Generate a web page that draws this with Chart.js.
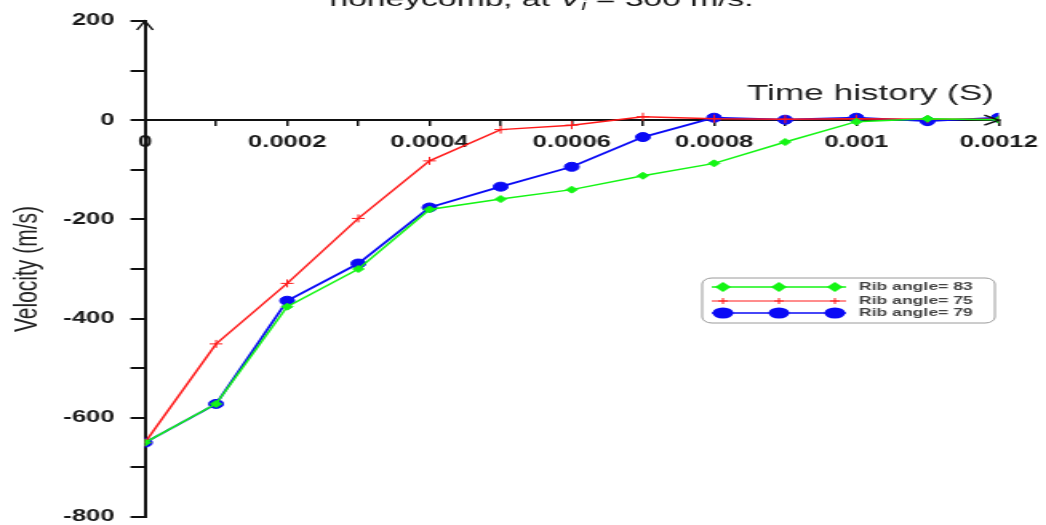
<!DOCTYPE html>
<html>
<head>
<meta charset="utf-8">
<script src="https://cdn.jsdelivr.net/npm/chart.js@4"></script>
<style>
  html, body { margin: 0; padding: 0; background: #fff; }
  /* the reference is stretched sideways, so the canvas is drawn narrow and shown wide */
  #chart { display: block; }
</style>
</head>
<body>
<canvas id="chart" width="654" height="525" style="width:1046px;height:525px"></canvas>
<script>
// time steps (s)
const timeValues = [0, 0.0001, 0.0002, 0.0003, 0.0004, 0.0005, 0.0006,
  0.0007, 0.0008, 0.0009, 0.001, 0.0011, 0.0012];

// velocity (m/s) per rib angle
const rib83 = [-650, -572, -376, -300, -180, -159, -140, -112, -87, -44, -3, 3, 1];
const rib75 = [-650, -451, -329, -198, -82, -19, -10, 7, 3, 2, 3, 2, 2];
const rib79 = [-650, -572, -364, -289, -176, -134, -94, -34, 5, 1, 5, -2, 5];

const seriesLabels = ['Rib angle= 83', 'Rib angle= 75', 'Rib angle= 79'];
const xTickLabels = ['0', '0.0002', '0.0004', '0.0006', '0.0008', '0.001', '0.0012'];
const yTickLabels = ['-800', '-600', '-400', '-200', '0', '200'];

const toPoints = values => values.map((v, i) => ({ x: timeValues[i], y: v }));

/**
 * Title (cut off at the top), x axis caption and axis arrows
 */
const decorations = {
  id: 'decorations',
  afterDraw(chart) {
    const ctx = chart.ctx;
    const area = chart.chartArea;
    const y0 = chart.scales.y.getPixelForValue(0);

    ctx.save();
    ctx.fillStyle = '#111';
    ctx.textBaseline = 'alphabetic';
    ctx.textAlign = 'left';

    // title, mostly outside the canvas
    let x = 206;
    const base = 6;
    ctx.font = '21px "Liberation Sans", Arial, sans-serif';
    const part1 = 'honeycomb, at ';
    ctx.fillText(part1, x, base);
    x += ctx.measureText(part1).width;
    ctx.font = 'italic 21px "Liberation Sans", Arial, sans-serif';
    ctx.fillText('V', x, base);
    x += ctx.measureText('V').width;
    ctx.font = 'italic 14px "Liberation Sans", Arial, sans-serif';
    ctx.fillText('i', x, base + 4);
    x += ctx.measureText('i').width;
    ctx.font = '21px "Liberation Sans", Arial, sans-serif';
    ctx.fillText(' = 300 m/s.', x, base);

    // x axis caption
    ctx.font = '22px "Liberation Sans", Arial, sans-serif';
    ctx.fillStyle = '#222';
    ctx.textAlign = 'right';
    ctx.fillText('Time history (S)', area.right - 3, 100);

    // arrows
    ctx.strokeStyle = '#111';
    ctx.lineWidth = 1.5;
    ctx.beginPath();
    ctx.moveTo(area.left - 5, area.top + 9);
    ctx.lineTo(area.left, area.top);
    ctx.lineTo(area.left + 5, area.top + 9);
    ctx.moveTo(area.right - 9, y0 - 5);
    ctx.lineTo(area.right, y0);
    ctx.lineTo(area.right - 9, y0 + 5);
    ctx.stroke();
    ctx.restore();
  }
};

/**
 * Boxed legend with three markers on each sample line
 */
const boxLegend = {
  id: 'boxLegend',
  afterDraw(chart) {
    const ctx = chart.ctx;
    const bx = 439, by = 278, bw = 183, bh = 45, r = 6;
    const rows = [287, 301, 313];
    const lineX1 = 445, lineX2 = 529;
    const markerXs = [452, 487, 522];

    ctx.save();
    ctx.beginPath();
    ctx.moveTo(bx + r, by);
    ctx.arcTo(bx + bw, by, bx + bw, by + bh, r);
    ctx.arcTo(bx + bw, by + bh, bx, by + bh, r);
    ctx.arcTo(bx, by + bh, bx, by, r);
    ctx.arcTo(bx, by, bx + bw, by, r);
    ctx.closePath();
    ctx.fillStyle = '#fff';
    ctx.fill();
    ctx.strokeStyle = '#9a9a9a';
    ctx.lineWidth = 1;
    ctx.stroke();

    chart.data.datasets.forEach((ds, i) => {
      const y = rows[i];
      ctx.strokeStyle = ds.borderColor;
      ctx.fillStyle = ds.borderColor;
      ctx.lineWidth = ds.pointStyle === 'cross' ? 1 : 1.5;
      ctx.beginPath();
      ctx.moveTo(lineX1, y);
      ctx.lineTo(lineX2, y);
      ctx.stroke();

      markerXs.forEach(mx => {
        ctx.beginPath();
        if (ds.pointStyle === 'rectRot') {
          ctx.moveTo(mx, y - 5);
          ctx.lineTo(mx + 5, y);
          ctx.lineTo(mx, y + 5);
          ctx.lineTo(mx - 5, y);
          ctx.closePath();
          ctx.fill();
        } else if (ds.pointStyle === 'circle') {
          ctx.ellipse(mx, y, 6.5, 5.5, 0, 0, Math.PI * 2);
          ctx.fill();
        } else {
          ctx.moveTo(mx, y - 3);
          ctx.lineTo(mx, y + 3);
          ctx.moveTo(mx - 3, y);
          ctx.lineTo(mx + 3, y);
          ctx.stroke();
        }
      });

      ctx.font = 'bold 11px "Liberation Sans", Arial, sans-serif';
      ctx.fillStyle = '#444';
      ctx.textAlign = 'left';
      ctx.textBaseline = 'middle';
      ctx.fillText(ds.label, 537, y);
    });
    ctx.restore();
  }
};

new Chart(document.getElementById('chart'), {
  type: 'line',
  data: {
    datasets: [{
      label: seriesLabels[0],
      data: toPoints(rib83),
      borderColor: '#14f514',
      backgroundColor: '#14f514',
      borderWidth: 1.5,
      pointStyle: 'rectRot',
      pointRadius: 3.5,
      pointBorderWidth: 1
    }, {
      label: seriesLabels[1],
      data: toPoints(rib75),
      borderColor: '#ff1a1a',
      backgroundColor: '#ff1a1a',
      borderWidth: 1.5,
      pointStyle: 'cross',
      pointRadius: 4,
      pointBorderWidth: 1
    }, {
      label: seriesLabels[2],
      data: toPoints(rib79),
      borderColor: '#0a0af5',
      backgroundColor: '#0a0af5',
      borderWidth: 1.8,
      pointStyle: 'circle',
      pointRadius: 4.5,
      pointBorderWidth: 1
    }]
  },
  options: {
    responsive: false,
    animation: false,
    devicePixelRatio: 1,
    layout: {
      padding: { top: 21, bottom: 8, left: 0, right: 29.6 }
    },
    plugins: {
      legend: { display: false },
      tooltip: { enabled: false }
    },
    elements: {
      line: { tension: 0 }
    },
    scales: {
      x: {
        type: 'linear',
        position: { y: 0 },
        min: 0,
        max: 0.0012,
        afterFit: scale => {
          scale.height = 0;
          scale.paddingLeft = 0;
          scale.paddingRight = 0;
        },
        border: { display: true, color: '#111', width: 2 },
        grid: {
          drawOnChartArea: false,
          drawTicks: true,
          tickLength: 5,
          color: '#111',
          lineWidth: 1.5
        },
        ticks: {
          stepSize: 0.0001,
          autoSkip: false,
          maxRotation: 0,
          padding: 8,
          color: '#1a1a1a',
          font: { family: '"Liberation Sans", Arial, sans-serif', size: 16, weight: 'bold' },
          callback: value => {
            const n = Math.round(value * 10000);
            return n % 2 === 0 ? xTickLabels[n / 2] : '';
          }
        }
      },
      y: {
        type: 'linear',
        position: 'left',
        min: -800,
        max: 200,
        afterFit: scale => {
          scale.width = 90.6;
          scale.paddingTop = 0;
          scale.paddingBottom = 0;
        },
        border: { display: true, color: '#111', width: 2 },
        grid: {
          drawOnChartArea: false,
          drawTicks: true,
          tickLength: 9,
          color: '#111',
          lineWidth: 2
        },
        ticks: {
          stepSize: 100,
          autoSkip: false,
          padding: 10,
          color: '#1a1a1a',
          font: { family: '"Liberation Sans", Arial, sans-serif', size: 16, weight: 'bold' },
          callback: value => {
            const n = Math.round(value);
            return n % 200 === 0 ? yTickLabels[(n + 800) / 200] : '';
          }
        },
        title: {
          display: true,
          text: 'Velocity (m/s)',
          color: '#222',
          padding: { top: 5, bottom: 0 },
          font: { family: '"Liberation Sans", Arial, sans-serif', size: 21, weight: 'normal' }
        }
      }
    }
  },
  plugins: [decorations, boxLegend]
});
</script>
</body>
</html>
